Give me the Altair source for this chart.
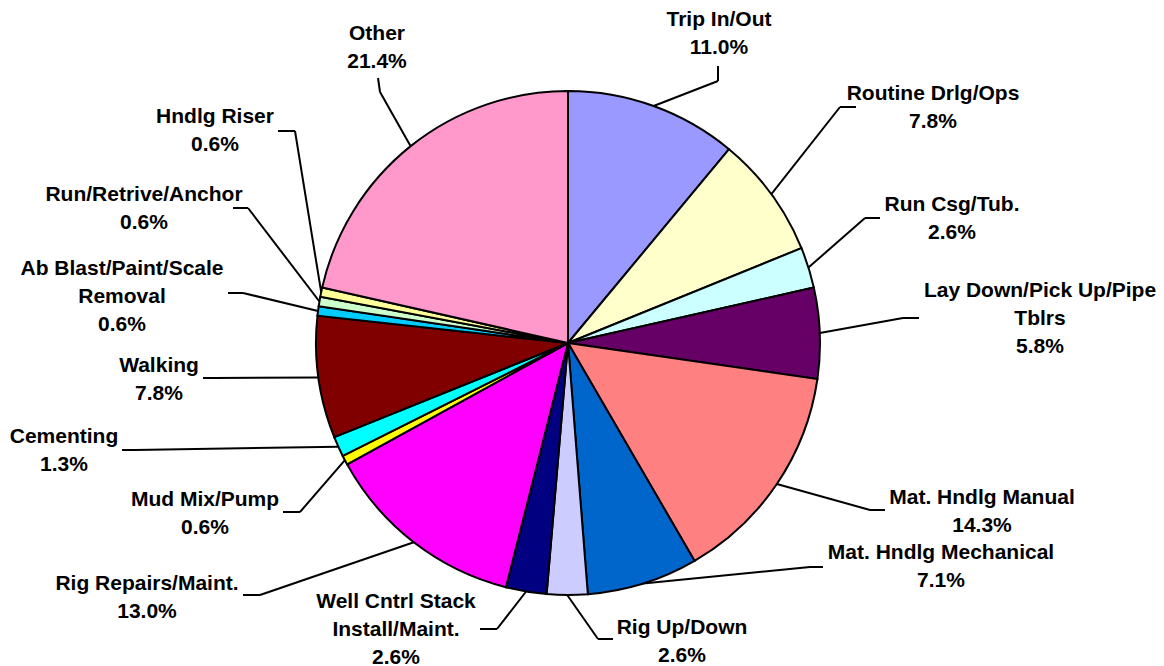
import altair as alt
import pandas as pd

# ---- data ----
categories = ["Trip In/Out", "Routine Drlg/Ops", "Run Csg/Tub.", "Lay Down/Pick Up/Pipe Tblrs",
              "Mat. Hndlg Manual", "Mat. Hndlg Mechanical", "Rig Up/Down",
              "Well Cntrl Stack Install/Maint.", "Rig Repairs/Maint.", "Mud Mix/Pump",
              "Cementing", "Walking", "Ab Blast/Paint/Scale Removal", "Run/Retrive/Anchor",
              "Hndlg Riser", "Other"]
values = [11.0, 7.8, 2.6, 5.8, 14.3, 7.1, 2.6, 2.6, 13.0, 0.6, 1.3, 7.8, 0.6, 0.6, 0.6, 21.4]
label_names = ["Trip In/Out", "Routine Drlg/Ops", "Run Csg/Tub.", "Lay Down/Pick Up/Pipe\nTblrs",
               "Mat. Hndlg Manual", "Mat. Hndlg Mechanical", "Rig Up/Down",
               "Well Cntrl Stack\nInstall/Maint.", "Rig Repairs/Maint.", "Mud Mix/Pump",
               "Cementing", "Walking", "Ab Blast/Paint/Scale\nRemoval", "Run/Retrive/Anchor",
               "Hndlg Riser", "Other"]
colors = ["#9999FF", "#FFFFCC", "#CCFFFF", "#660066", "#FF8080", "#0066CC", "#CCCCFF",
          "#000080", "#FF00FF", "#FFFF00", "#00FFFF", "#800000", "#00CCFF", "#CCFFCC",
          "#FFFF99", "#FF99CC"]

# ---- layout (pixel positions, chart coordinates) ----
CX, CY, R = 560, 335, 252
OFF = 8
# label centre x, first baseline y, elbow x, elbow y, end x, end y  (page coords)
label_layout = [
    (719, 26, 718, 81, 718, 66),
    (933, 100, 840, 107, 856, 107),
    (952, 211, 865, 218, 880, 218),
    (1040, 297, 903, 318, 919, 318),
    (982, 504, 870, 510, 885, 510),
    (941, 559, 810, 567, 823, 567),
    (682, 634, 598, 639, 613, 639),
    (396, 608, 497, 629, 480, 629),
    (147, 590, 260, 595, 243, 595),
    (205, 506, 300, 512, 283, 512),
    (64, 443, 135, 450, 122, 450),
    (159, 372, 215, 378, 203, 378),
    (122, 275, 243, 293, 228, 293),
    (144, 201, 248, 208, 233, 208),
    (215, 123, 295, 131, 278, 131),
    (377, 40, 380, 92, 378, 78),
]

rows = []
for i, (c, v, n) in enumerate(zip(categories, values, label_names)):
    lx, ly, ex, ey, tx, ty = label_layout[i]
    rows.append(dict(idx=i, cat=c, value=v, label=f"{n}\n{v:.1f}%",
                     lx=lx - OFF, ly=ly - OFF, ex=ex - OFF, ey=ey - OFF,
                     tx=tx - OFF, ty=ty - OFF))
df = pd.DataFrame(rows)

base = alt.Chart(df)

pie = base.mark_arc(outerRadius=R, stroke="black", strokeWidth=2).encode(
    theta=alt.Theta("value:Q", stack=True),
    color=alt.Color("cat:N", scale=alt.Scale(domain=categories, range=colors), legend=None),
    order=alt.Order("idx:Q", sort="ascending"),
    x=alt.value(CX),
    y=alt.value(CY),
)

lead = base.transform_window(
    cum="sum(value)", sort=[alt.SortField("idx", order="ascending")]
).transform_joinaggregate(
    total="sum(value)"
).transform_calculate(
    mid="(datum.cum - datum.value / 2) / datum.total * 2 * PI"
).transform_calculate(
    sx=f"{CX} + {R} * sin(datum.mid)",
    sy=f"{CY} - {R} * cos(datum.mid)",
)

rule1 = lead.mark_rule(color="black", strokeWidth=2).encode(
    x=alt.X("sx:Q", scale=None), y=alt.Y("sy:Q", scale=None),
    x2="ex:Q", y2="ey:Q",
)
rule2 = base.mark_rule(color="black", strokeWidth=2).encode(
    x=alt.X("ex:Q", scale=None), y=alt.Y("ey:Q", scale=None),
    x2="tx:Q", y2="ty:Q",
)

text = base.mark_text(
    font="Liberation Sans", fontWeight="bold", fontSize=21, lineHeight=28,
    align="center", baseline="alphabetic", lineBreak="\n", color="black",
).encode(
    x=alt.X("lx:Q", scale=None), y=alt.Y("ly:Q", scale=None), text="label:N",
)

chart = alt.layer(rule1, rule2, pie, text).properties(
    width=1148, height=658, padding=0, autosize=alt.AutoSizeParams(type="none"),
).configure_view(stroke=None)

chart.save("out.html", embed_options={"renderer": "svg", "actions": False})
